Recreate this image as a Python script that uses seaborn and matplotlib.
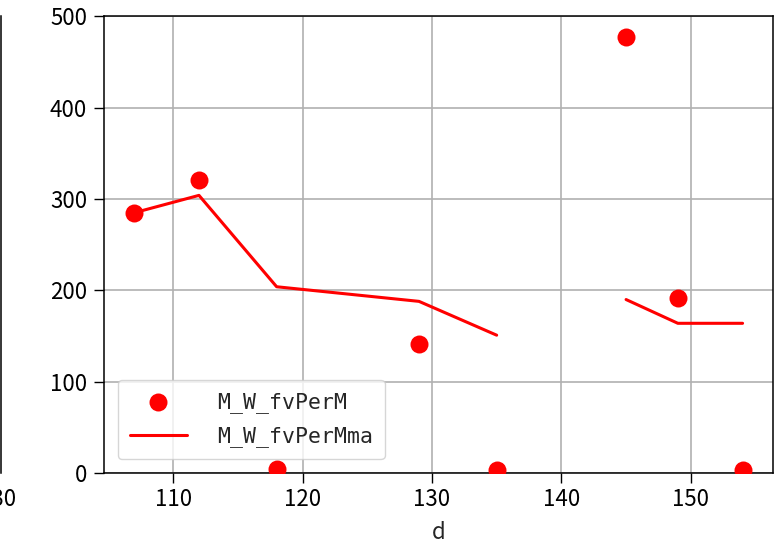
"""Scatter of M_W_fvPerM with its moving average against d."""

import matplotlib

matplotlib.use("Agg")
import matplotlib.pyplot as plt
import pandas as pd
import seaborn as sns

# data
d = [107, 112, 118, 129, 135, 145, 149, 154]
fv_per_m = [285, 321, 5, 141, 4, 477, 192, 4]
fv_per_m_ma = [285, 304, 204, 188, 151, 190, 164, 164]
ma_segment = [0, 0, 0, 0, 0, 1, 1, 1]  # the moving average breaks between 135 and 145

y_ticks = [0, 100, 200, 300, 400, 500]
x_ticks = [110, 120, 130, 140, 150]

sns.set_theme(style="whitegrid")
plt.rcParams["font.family"] = ["Noto Sans CJK JP", "DejaVu Sans"]
plt.rcParams.update({
    "axes.edgecolor": "black",
    "axes.linewidth": 1.1,
    "grid.color": "#b0b0b0",
    "grid.linewidth": 1.2,
    "xtick.bottom": True,
    "ytick.left": True,
    "xtick.major.size": 7,
    "ytick.major.size": 7,
    "xtick.major.width": 1.0,
    "ytick.major.width": 1.0,
    "xtick.major.pad": 4,
    "ytick.major.pad": 5,
    "xtick.color": "black",
    "ytick.color": "black",
    "xtick.labelsize": 16,
    "ytick.labelsize": 16,
    "axes.labelsize": 16,
})

df = pd.DataFrame({"d": d, "fv": fv_per_m, "ma": fv_per_m_ma, "seg": ma_segment})

fig = plt.figure(figsize=(7.75, 5.42), dpi=100)

# neighbouring subplot, only its right edge shows in the crop
ax_left = fig.add_axes([-0.5, 0.127, 0.5013, 0.843])
ax_left.set_xlim(80, 130.5)
ax_left.set_ylim(0, 500)
ax_left.set_xticks([130])
ax_left.set_yticks([])
ax_left.grid(False)
for side in ["top", "bottom", "left"]:
    ax_left.spines[side].set_visible(False)

ax = fig.add_axes([0.134, 0.127, 0.8634, 0.843])
sns.scatterplot(data=df, x="d", y="fv", color="red", s=168, linewidth=0,
                label="M_W_fvPerM", ax=ax, zorder=3)
sns.lineplot(data=df, x="d", y="ma", units="seg", estimator=None, color="red",
             linewidth=2.2, label="M_W_fvPerMma", ax=ax, zorder=3)

ax.set_ylim(0, 500)
ax.set_yticks(y_ticks)
ax.set_xticks(x_ticks)
ax.set_xlabel("d", labelpad=7)
ax.set_ylabel("")

handles, labels = ax.get_legend_handles_labels()
uniq = dict(zip(labels, handles))
ax.legend(list(uniq.values()), list(uniq.keys()), loc="lower left",
          prop={"family": "DejaVu Sans Mono", "size": 15.5},
          handlelength=2.65, handletextpad=1.4, borderaxespad=0.65,
          borderpad=0.55, labelspacing=0.64,
          frameon=True, edgecolor="#cccccc", framealpha=0.8, fancybox=True)

fig.savefig("out.png", dpi=100)
